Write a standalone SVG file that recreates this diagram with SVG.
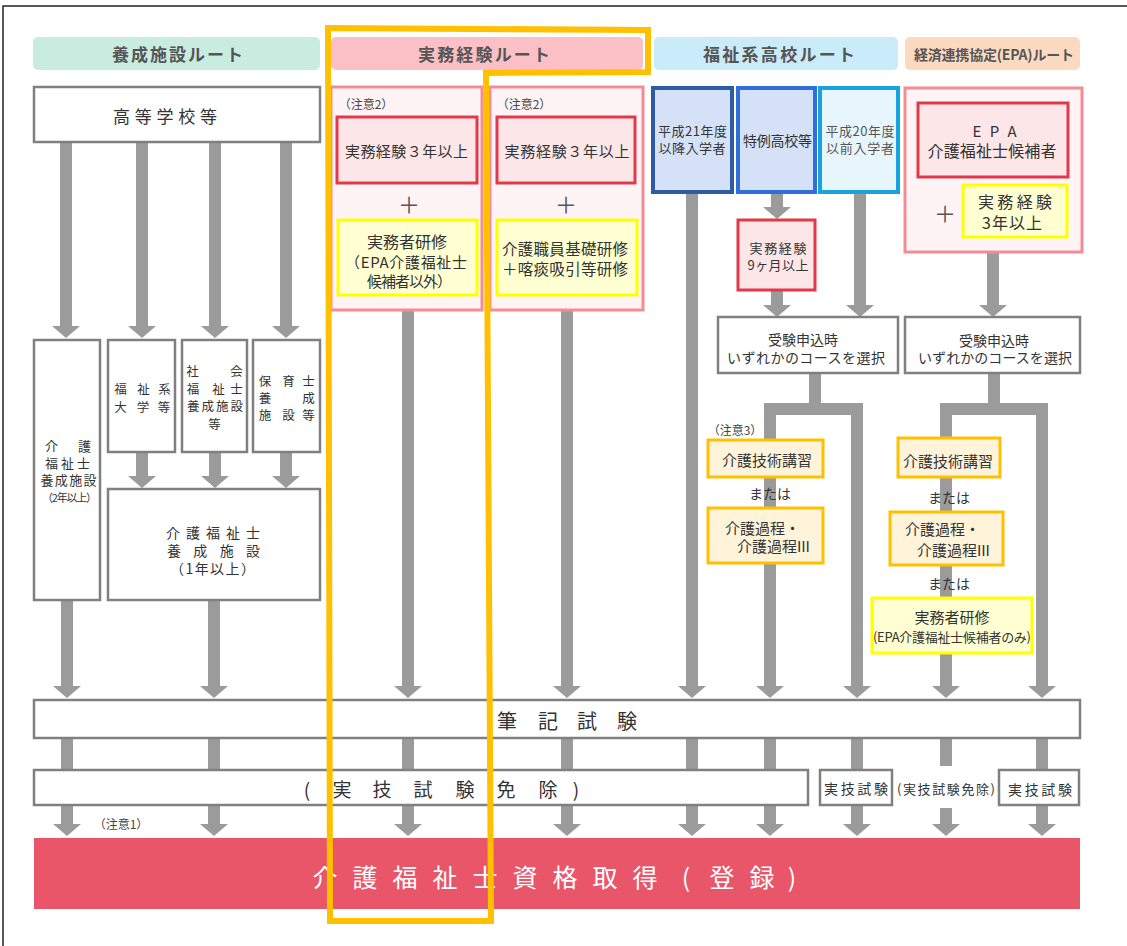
<svg xmlns="http://www.w3.org/2000/svg" width="1127" height="946" viewBox="0 0 1127 946">
<defs>
<marker id="ah" viewBox="0 -14 12 28" refX="0" refY="0" markerWidth="12" markerHeight="28" markerUnits="userSpaceOnUse" orient="auto-start-reverse"><path d="M0,-14 L12,0 L0,14 Z" fill="#9b9b9b"/></marker>
<style>
text{font-family:"Noto Sans CJK JP","Noto Sans CJK SC",sans-serif;fill:#333;text-anchor:middle;dominant-baseline:central;font-size:14px}
.hd{font-weight:bold;fill:#555;font-size:17px}
.gbox{fill:#fff;stroke:#808080;stroke-width:2.5}
.pink{fill:#fff4f5;stroke:#f48c96;stroke-width:3}
.red{fill:#fde6e8;stroke:#e2384a;stroke-width:3}
.yel{fill:#ffffd2;stroke:#ffff00;stroke-width:3}
.gold{fill:#fff4da;stroke:#ffc000;stroke-width:3}
.sh{fill:none;stroke:#9b9b9b;stroke-width:12;stroke-linejoin:miter}
.ar{marker-end:url(#ah)}
.ar2{marker-start:url(#ah);marker-end:url(#ah)}
.note{font-size:12px;fill:#444}
.plus{font-size:22px;fill:#555}
.blue{stroke-width:4}
.big{font-size:20px}
.w{fill:#fff;font-size:25px}
.s12{font-size:12.5px}
.s13{font-size:13px}
.s15{font-size:15px}
</style>
</defs>
<rect width="1127" height="946" fill="#fff"/>
<path d="M3,946 V6 H1127" fill="none" stroke="#222" stroke-width="1.5"/>

<g id="connectors">
<path class="sh ar" d="M66,142 V326"/>
<path class="sh ar" d="M142,142 V326"/>
<path class="sh ar" d="M215,142 V326"/>
<path class="sh ar" d="M286,142 V326"/>
<path class="sh ar" d="M142,452 V476"/>
<path class="sh ar" d="M215,452 V476"/>
<path class="sh ar" d="M286,452 V476"/>
<path class="sh ar" d="M67,600 V686"/>
<path class="sh ar" d="M214,600 V686"/>
<path class="sh ar" d="M408,310 V686"/>
<path class="sh ar" d="M567,310 V686"/>
<path class="sh ar" d="M692,192 V686"/>
<path class="sh ar" d="M777,192 V207"/>
<path class="sh ar" d="M777,290 V305"/>
<path class="sh ar" d="M860,192 V305"/>
<path class="sh ar" d="M993,252 V305"/>
<path class="sh" d="M815,373 V409"/>
<path class="sh ar2" d="M770,686 V409 H857 V686"/>
<path class="sh" d="M994,373 V409"/>
<path class="sh ar2" d="M946,686 V409 H1042 V686"/>
<path class="sh" d="M67,738 V770 M214,738 V770 M408,738 V770 M567,738 V770 M692,738 V770 M770,738 V770 M857,738 V770 M1042,738 V770 M946,738 V766"/>
<path class="sh ar" d="M67,805 V824"/>
<path class="sh ar" d="M214,805 V824"/>
<path class="sh ar" d="M408,805 V824"/>
<path class="sh ar" d="M567,805 V824"/>
<path class="sh ar" d="M692,805 V824"/>
<path class="sh ar" d="M770,805 V824"/>
<path class="sh ar" d="M857,805 V824"/>
<path class="sh ar" d="M946,808 V824"/>
<path class="sh ar" d="M1042,805 V824"/>
</g>

<g id="h-yosei"><rect x="33" y="37" width="287" height="33" rx="5" fill="#c8ece0"/><text class="hd" x="177.5" y="53" textLength="131">養成施設ルート</text></g>
<g id="h-jitsumu"><rect x="331" y="37" width="312" height="33" rx="5" fill="#fbc0c5"/><text class="hd" x="484" y="53" textLength="132">実務経験ルート</text></g>
<g id="h-fukushi"><rect x="654" y="37" width="244" height="33" rx="5" fill="#c9ebfa"/><text class="hd" x="779" y="53" textLength="152">福祉系高校ルート</text></g>
<g id="h-epa"><rect x="905" y="37" width="175" height="33" rx="5" fill="#fcdac2"/><text class="hd" x="994" y="54" style="font-size:14px" textLength="160">経済連携協定(EPA)ルート</text></g>

<g id="koko"><rect class="gbox" x="34" y="87" width="286" height="55"/><text x="165" y="115" style="font-size:17px" textLength="104">高等学校等</text></g>

<g id="kaigo2"><rect class="gbox" x="34" y="340" width="66" height="260"/>
<text class="s13" x="51.5 84.5" y="445">介護</text>
<text class="s13" x="67.5" y="462" textLength="45">福祉士</text>
<text class="s13" x="68.5" y="479" textLength="56">養成施設</text>
<text x="69.5" y="497" style="font-size:11px" textLength="55">（2年以上）</text></g>

<g id="fukushi-dai"><rect class="gbox" x="108" y="340" width="67" height="112"/>
<text class="s12" x="120.5 143.5 164.5" y="388">福祉系</text>
<text class="s12" x="120.5 143 164" y="406">大学等</text></g>

<g id="shakai"><rect class="gbox" x="182" y="340" width="65" height="112"/>
<text class="s12" x="192.5 236.5" y="370">社会</text>
<text class="s12" x="193 218.5 236.5" y="388">福祉士</text>
<text class="s12" x="215" y="405" textLength="56">養成施設</text>
<text class="s12" x="214.5" y="423">等</text></g>

<g id="hoiku"><rect class="gbox" x="253" y="340" width="67" height="112"/>
<text class="s12" x="265 288.5 308.5" y="380">保育士</text>
<text class="s12" x="265 308.5" y="397">養成</text>
<text class="s12" x="265 288.5 308.5" y="414">施設等</text></g>

<g id="kaigo1"><rect class="gbox" x="108" y="489" width="212" height="111"/>
<text x="213" y="532" textLength="94">介護福祉士</text>
<text x="213.5" y="550" textLength="93">養成施設</text>
<text x="212.5" y="568" textLength="85">（1年以上）</text></g>

<g id="route-a"><rect class="pink" x="331" y="87" width="151" height="223"/>
<text class="note" x="366" y="103">（注意2）</text>
<rect class="red" x="337" y="117" width="140" height="66"/>
<text class="s15" x="406.5" y="150" textLength="123">実務経験３年以上</text>
<text class="plus" x="409" y="203">＋</text>
<rect class="yel" x="338" y="220" width="139" height="75"/>
<text style="font-size:16px" x="407" y="241" textLength="80">実務者研修</text>
<text class="s15" x="406" y="261" textLength="122">（EPA介護福祉士</text>
<text class="s15" x="409.5" y="280" textLength="85">候補者以外）</text></g>

<g id="route-b"><rect class="pink" x="490" y="87" width="153" height="223"/>
<text class="note" x="524" y="103">（注意2）</text>
<rect class="red" x="497" y="117" width="138" height="66"/>
<text class="s15" x="567" y="150" textLength="125">実務経験３年以上</text>
<text class="plus" x="566" y="203">＋</text>
<rect class="yel" x="497" y="220" width="140" height="75"/>
<text style="font-size:15.5px" x="565" y="248" textLength="126">介護職員基礎研修</text>
<text style="font-size:15.5px" x="565" y="268" textLength="126">＋喀痰吸引等研修</text></g>

<g id="h21"><rect class="blue" x="653" y="88" width="79" height="104" fill="#d5e1f7" stroke="#2d5ba6"/>
<text class="s13" x="692.5" y="130" textLength="69">平成21年度</text>
<text class="s13" x="692" y="147" textLength="67">以降入学者</text></g>
<g id="tokurei"><rect class="blue" x="738" y="88" width="77" height="104" fill="#d5e1f7" stroke="#2f6fdc"/>
<text x="777.5" y="140" textLength="69">特例高校等</text></g>
<g id="h20"><rect class="blue" x="820" y="88" width="78" height="104" fill="#e7f6fd" stroke="#18a2de"/>
<text class="s13" x="860" y="130" textLength="69" style="fill:#555">平成20年度</text>
<text class="s13" x="860" y="147" textLength="68" style="fill:#555">以前入学者</text></g>
<g id="jitsumu9"><rect class="red" x="738" y="220" width="77" height="70"/>
<text class="s13" x="778" y="247" textLength="57">実務経験</text>
<text class="s13" x="778" y="264" textLength="61">9ヶ月以上</text></g>
<g id="juken1"><rect class="gbox" x="718" y="317" width="180" height="56"/>
<text x="803" y="339">受験申込時</text>
<text x="806" y="357" textLength="158">いずれかのコースを選択</text></g>
<text class="note" x="735" y="429">（注意3）</text>
<g id="gijutsu1"><rect class="gold" x="708" y="440" width="115" height="37"/>
<text class="s15" x="767" y="459" textLength="90">介護技術講習</text></g>
<text x="770" y="493">または</text>
<g id="katei1"><rect class="gold" x="708" y="508" width="115" height="55"/>
<text class="s15" x="762.5" y="527" textLength="75">介護過程・</text>
<text class="s15" x="773.5" y="545" textLength="73">介護過程III</text></g>

<g id="epa"><rect class="pink" x="905" y="88" width="177" height="164"/>
<rect class="red" x="918" y="103" width="150" height="74"/>
<text x="977 994.5 1012" y="130" class="s15">EPA</text>
<text x="992" y="150" style="font-size:16px" textLength="129">介護福祉士候補者</text>
<text class="plus" x="945" y="212">＋</text>
<rect class="yel" x="963" y="185" width="104" height="52"/>
<text x="1015" y="201" style="font-size:16px" textLength="74">実務経験</text>
<text x="1012" y="222" style="font-size:16px" textLength="60">3年以上</text></g>
<g id="juken2"><rect class="gbox" x="905" y="317" width="175" height="56"/>
<text x="994" y="339.5">受験申込時</text>
<text x="995" y="357" textLength="154">いずれかのコースを選択</text></g>
<g id="gijutsu2"><rect class="gold" x="898" y="438" width="102" height="39"/>
<text class="s15" x="948" y="460" textLength="90">介護技術講習</text></g>
<text x="949" y="497">または</text>
<g id="katei2"><rect class="gold" x="890" y="512" width="113" height="53"/>
<text class="s15" x="942.5" y="528" textLength="75">介護過程・</text>
<text class="s15" x="953.5" y="549" textLength="73">介護過程III</text></g>
<text x="949" y="583">または</text>
<g id="kenshu2"><rect class="yel" x="872" y="598" width="160" height="55"/>
<text class="s15" x="952" y="616" textLength="75">実務者研修</text>
<text x="952" y="636" style="font-size:13px" textLength="158">(EPA介護福祉士候補者のみ)</text></g>

<g id="hikki"><rect class="gbox" x="34" y="700" width="1046" height="38"/>
<text class="big" x="507 548 587 627" y="720">筆記試験</text></g>
<g id="menjo"><rect class="gbox" x="34" y="770" width="774" height="35"/>
<text style="font-size:19px" x="307 342 382 423 465 506 548 576" y="788">(実技試験免除)</text></g>
<g id="jitsugi1"><rect class="gbox" x="820" y="770" width="72" height="35"/>
<text x="856" y="788" textLength="64">実技試験</text></g>
<text x="946" y="788" style="font-size:13px" textLength="98">(実技試験免除)</text>
<g id="jitsugi2"><rect class="gbox" x="999" y="770" width="80" height="35"/>
<text x="1040" y="789" textLength="64">実技試験</text></g>
<text class="note" x="121" y="823">（注意1）</text>

<g id="shikaku"><rect x="34" y="838" width="1046" height="71" fill="#e9566a"/>
<text class="w" x="325 365 405 445 485 525 565 605 645 686 722 762 792" y="876">介護福祉士資格取得(登録)</text></g>

<path id="highlight" d="M328,28 L648,30 L648,72 L486,73 L491,921 L330,921 Z" fill="none" stroke="#ffc000" stroke-width="6" stroke-linejoin="miter"/>
</svg>
